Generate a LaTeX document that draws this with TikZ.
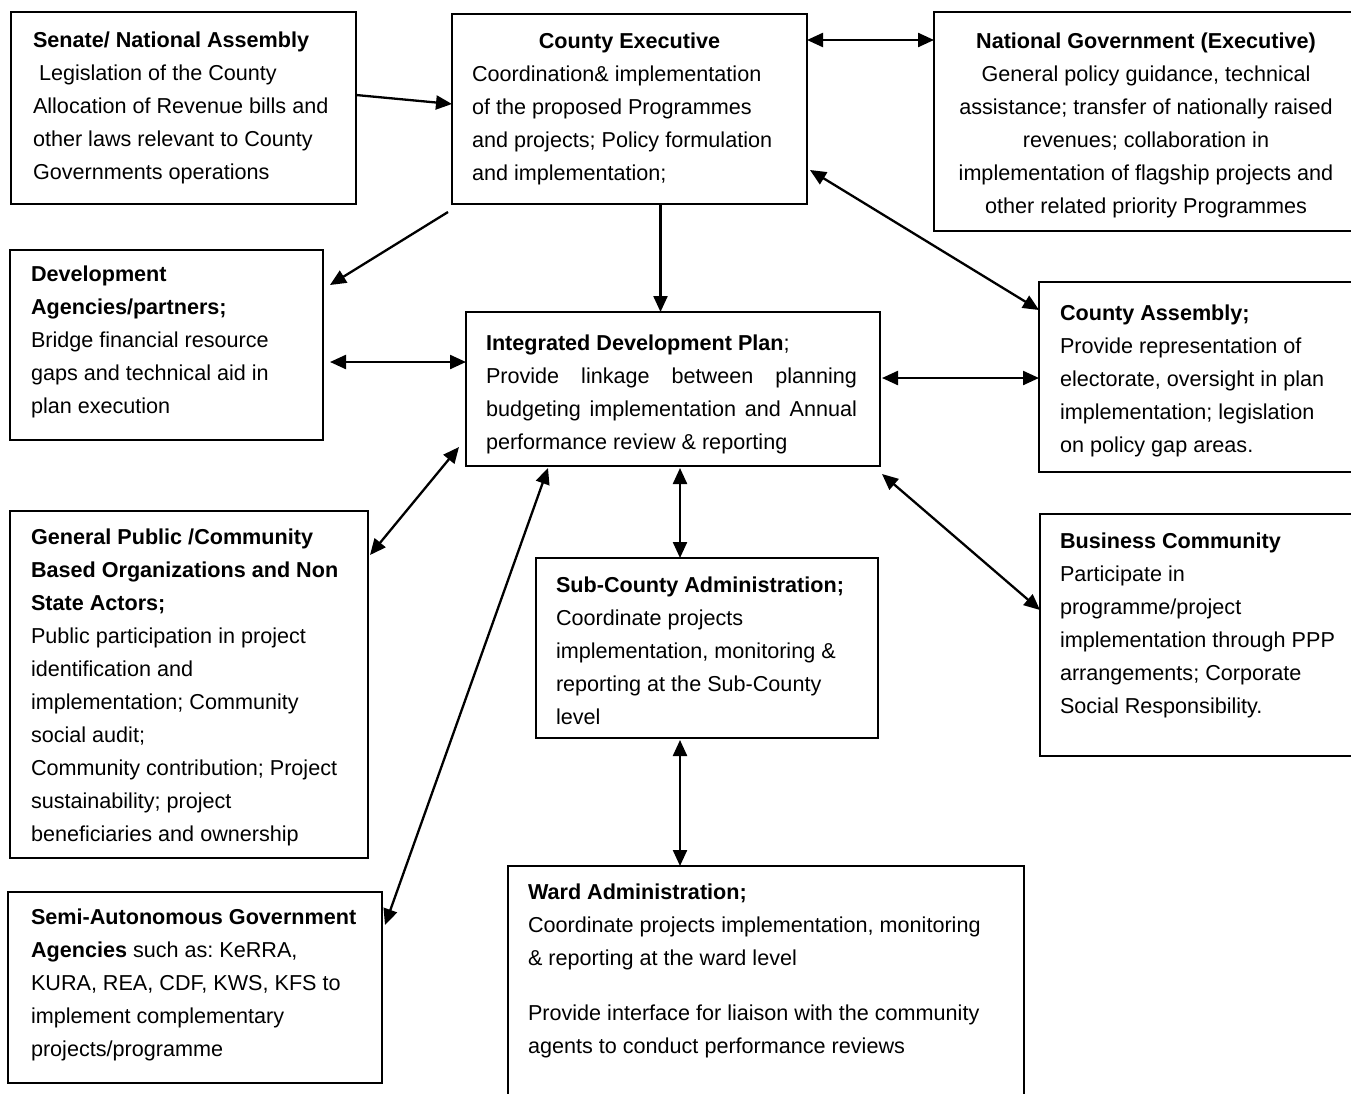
\documentclass[tikz,border=0pt]{standalone}
\usepackage{fontspec}
\setmainfont{Liberation Sans}
\usetikzlibrary{arrows.meta,calc}
\frenchspacing
\newcommand{\diafont}{\fontsize{21.6}{33}\selectfont\frenchspacing}
\begin{document}
\begin{tikzpicture}[x=1pt,y=-1pt,
  box/.style={draw=black,line width=1.7pt,inner sep=0pt,outer sep=0pt,anchor=north west},
  txt/.style={inner sep=0pt,outer sep=0pt,anchor=north west,align=left,font=\diafont},
  ctxt/.style={inner sep=0pt,outer sep=0pt,anchor=north,align=center,font=\diafont},
  one/.style={line width=2.3pt,-{Triangle[length=16pt,width=14pt]}},
  two/.style={line width=2.3pt,{Triangle[length=16pt,width=14pt]}-{Triangle[length=16pt,width=14pt]}}]
\clip (0,0) rectangle (1351,1093);
\fill[white] (0,0) rectangle (1351,1093);
% boxes
\node[box,minimum width=345pt,minimum height=192pt] (senate) at (11,12) {};
\node[box,minimum width=355pt,minimum height=190pt] (ce) at (452,14) {};
\node[box,minimum width=428pt,minimum height=219pt] (natgov) at (934,12) {};
\node[box,minimum width=313pt,minimum height=190pt] (dev) at (10,250) {};
\node[box,minimum width=414pt,minimum height=154pt] (idp) at (466,312) {};
\node[box,minimum width=323pt,minimum height=190pt] (ca) at (1039,282) {};
\node[box,minimum width=358pt,minimum height=347pt] (gp) at (10,511) {};
\node[box,minimum width=342pt,minimum height=180pt] (sub) at (536,558) {};
\node[box,minimum width=322pt,minimum height=242pt] (bus) at (1040,514) {};
\node[box,minimum width=374pt,minimum height=191pt] (semi) at (8,892) {};
\node[box,minimum width=516pt,minimum height=234pt] (ward) at (508,866) {};
% texts
\node[txt] (senate-t) at (33,24.4) {\strut\textbf{Senate/ National Assembly}\\
\ Legislation of the County\\
Allocation of Revenue bills and\\
other laws relevant to County\\
Governments operations};
\node[txt] (ce-t) at (472,25.4) {\strut\makebox[315pt]{\textbf{County Executive}}\\
Coordination\& implementation\\
of the proposed Programmes\\
and projects; Policy formulation\\
and implementation;};
\node[ctxt] (natgov-t) at (1146,25.4) {\strut\textbf{National Government (Executive)}\\
General policy guidance, technical\\
assistance; transfer of nationally raised\\
revenues; collaboration in\\
implementation of flagship projects and\\
other related priority Programmes};
\node[txt] (dev-t) at (31,258.4) {\strut\textbf{Development}\\
\textbf{Agencies/partners;}\\
Bridge financial resource\\
gaps and technical aid in\\
plan execution};
\node[txt] (idp-t) at (486,327.4) {\strut\textbf{Integrated Development Plan};\\
\makebox[371pt][s]{Provide linkage between planning}\\
\makebox[371pt][s]{budgeting implementation and Annual}\\
performance review \& reporting};
\node[txt] (ca-t) at (1060,297.4) {\strut\textbf{County Assembly;}\\
Provide representation of\\
electorate, oversight in plan\\
implementation; legislation\\
on policy gap areas.};
\node[txt] (gp-t) at (31,521.4) {\strut\textbf{General Public /Community}\\
\textbf{Based Organizations and Non}\\
\textbf{State Actors;}\\
Public participation in project\\
identification and\\
implementation; Community\\
social audit;\\
Community contribution; Project\\
sustainability; project\\
beneficiaries and ownership};
\node[txt] (sub-t) at (556,569.4) {\strut\textbf{Sub-County Administration;}\\
Coordinate projects\\
implementation, monitoring \&\\
reporting at the Sub-County\\
level};
\node[txt] (bus-t) at (1060,525.4) {\strut\textbf{Business Community}\\
Participate in\\
programme/project\\
implementation through PPP\\
arrangements; Corporate\\
Social Responsibility.};
\node[txt] (semi-t) at (31,901.4) {\strut\textbf{Semi-Autonomous Government}\\
\textbf{Agencies} such as: KeRRA,\\
KURA, REA, CDF, KWS, KFS to\\
implement complementary\\
projects/programme};
\node[txt] (ward-t) at (528,876.4) {\strut\textbf{Ward Administration;}\\
Coordinate projects implementation, monitoring\\
\& reporting at the ward level\\[22pt]
Provide interface for liaison with the community\\
agents to conduct performance reviews};
% connectors
\draw[one] ([yshift=13pt]senate.east) -- ([yshift=5pt]ce.west);
\draw[two] ([yshift=69pt]ce.east) coordinate (c2) -- (c2 -| natgov.west);
\draw[one] ([xshift=-4pt,yshift=-8pt]ce.south west) -- ([xshift=7pt,yshift=-35pt]dev.north east);
\draw[one] ([xshift=31pt]ce.south) coordinate (c4) -- (c4 |- idp.north);
\draw[two] ([xshift=3pt,yshift=-61pt]ce.east) -- ([yshift=-28pt]ca.north west);
\draw[two] ([xshift=7pt,yshift=-17pt]dev.east) coordinate (c6) -- (c6 -| idp.west);
\draw[two] ([xshift=2pt,yshift=11pt]idp.east) coordinate (c7) -- (c7 -| ca.west);
\draw[two] ([xshift=-7pt,yshift=19pt]idp.south west) -- ([xshift=2pt,yshift=-44pt]gp.north east);
\draw[two] ([xshift=82pt,yshift=-2pt]idp.south west) -- ([xshift=3pt,yshift=-33pt]semi.north east);
\draw[two] ([xshift=7pt,yshift=-2pt]idp.south) coordinate (c10) -- (c10 |- sub.north);
\draw[two] ([xshift=2pt,yshift=-8pt]idp.south east) -- ([yshift=25pt]bus.west);
\draw[two] ([xshift=-27pt,yshift=-2pt]sub.south) coordinate (c12) -- (c12 |- ward.north);
\end{tikzpicture}
\end{document}
